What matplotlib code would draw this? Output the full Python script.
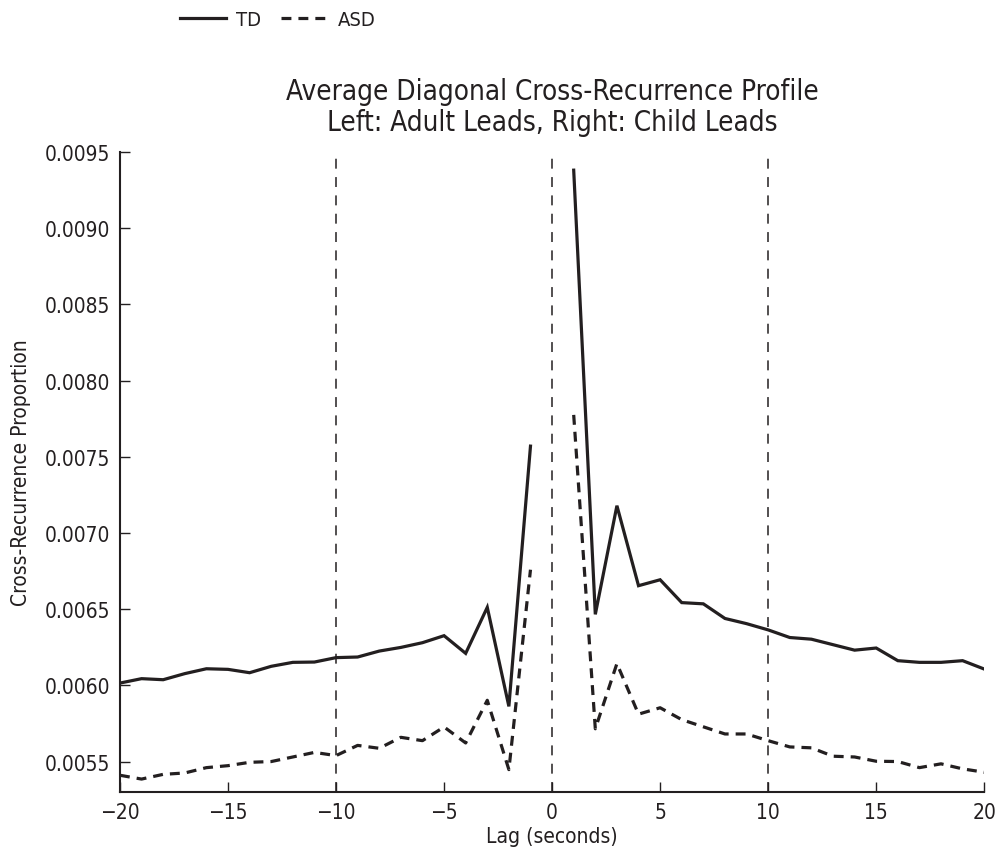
import matplotlib
matplotlib.use("Agg")
import matplotlib.pyplot as plt
import numpy as np

plt.rcParams['font.family'] = ['DejaVu Sans']
plt.rcParams['font.stretch'] = 'condensed'

lags_left = [-20, -19, -18, -17, -16, -15, -14, -13, -12, -11,
             -10, -9, -8, -7, -6, -5, -4, -3, -2, -1]
lags_right = [1, 2, 3, 4, 5, 6, 7, 8, 9, 10,
              11, 12, 13, 14, 15, 16, 17, 18, 19, 20]

td_left = [0.006015, 0.006044, 0.006037, 0.006077, 0.006109, 0.006105, 0.006083,
           0.006125, 0.006151, 0.006153, 0.006182, 0.006186, 0.006225, 0.006249,
           0.006280, 0.006326, 0.006210, 0.006512, 0.005862, 0.007570]
td_right = [0.009381, 0.006466, 0.007179, 0.006654, 0.006693, 0.006543, 0.006535,
            0.006439, 0.006405, 0.006364, 0.006314, 0.006303, 0.006267, 0.006231,
            0.006245, 0.006162, 0.006151, 0.006151, 0.006162, 0.006107]

asd_left = [0.005410, 0.005385, 0.005416, 0.005425, 0.005460, 0.005473, 0.005495,
            0.005500, 0.005530, 0.005560, 0.005539, 0.005606, 0.005587, 0.005659,
            0.005637, 0.005727, 0.005622, 0.005902, 0.005447, 0.006759]
asd_right = [0.007775, 0.005715, 0.006143, 0.005811, 0.005853, 0.005775, 0.005728,
             0.005681, 0.005681, 0.005637, 0.005596, 0.005590, 0.005535, 0.005530,
             0.005502, 0.005500, 0.005460, 0.005485, 0.005452, 0.005430]

ref_lines = [-10, 0, 10]
x_ticks = [-20, -15, -10, -5, 0, 5, 10, 15, 20]
y_ticks = [0.0055, 0.0060, 0.0065, 0.0070, 0.0075, 0.0080, 0.0085, 0.0090, 0.0095]

ink = '#231f20'

fig = plt.figure(figsize=(9.98, 8.54), dpi=100)
ax = fig.add_axes([0.1202, 0.0714, 0.866, 0.7494])

for xv in ref_lines:
    ax.axvline(xv, color=ink, lw=1.1, ls=(0, (6.5, 5.5)), zorder=1)

dash = (0, (3.1, 2.2))
l1, = ax.plot(lags_left, td_left, color=ink, lw=2.3, solid_joinstyle='miter', label='TD')
ax.plot(lags_right, td_right, color=ink, lw=2.3, solid_joinstyle='miter')
l2, = ax.plot(lags_left, asd_left, color=ink, lw=2.3, ls=dash, label='ASD')
ax.plot(lags_right, asd_right, color=ink, lw=2.3, ls=dash)

ax.set_xlim(-20, 20)
ax.set_ylim(0.0053, 0.0095)
ax.set_xticks(x_ticks)
ax.set_yticks(y_ticks)
ax.set_yticklabels([f"{v:.4f}" for v in y_ticks])

ax.spines['top'].set_visible(False)
ax.spines['right'].set_visible(False)
for s in ('left', 'bottom'):
    ax.spines[s].set_color(ink)
    ax.spines[s].set_linewidth(1.5)
ax.tick_params(direction='in', length=7, width=1.0, colors=ink, labelsize=15, pad=7)

ax.set_xlabel('Lag (seconds)', fontsize=15, color=ink, labelpad=3)
ax.set_ylabel('Cross-Recurrence Proportion', fontsize=15, color=ink, labelpad=10)
ax.set_title('Average Diagonal Cross-Recurrence Profile\nLeft: Adult Leads, Right: Child Leads',
             fontsize=20, color=ink, pad=16, linespacing=1.15)

fig.legend(handles=[l1, l2], loc='upper left', bbox_to_anchor=(0.162, 1.008), ncol=2,
           frameon=False, fontsize=14.5, handlelength=2.3, columnspacing=1.0,
           handletextpad=0.5, labelcolor=ink)

fig.savefig('out.png', dpi=100)
